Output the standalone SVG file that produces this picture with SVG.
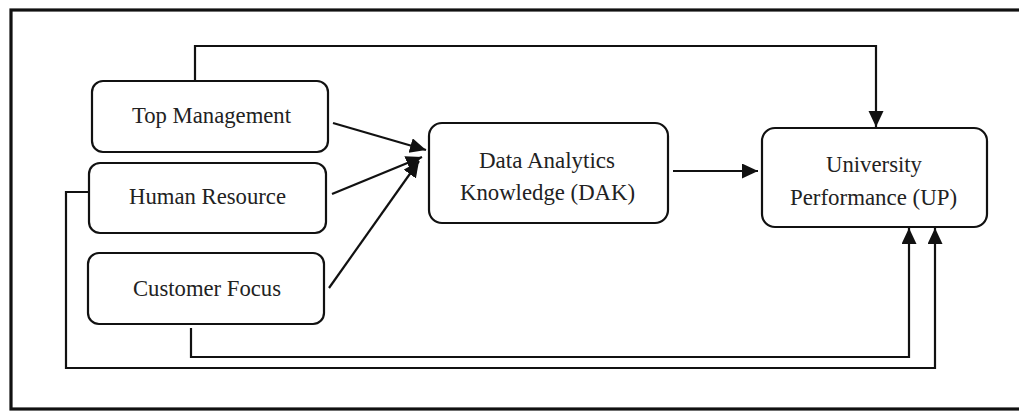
<svg xmlns="http://www.w3.org/2000/svg" width="1019" height="412" viewBox="0 0 1019 412">
<style>
.box{fill:#fff;stroke:#111;stroke-width:2.2}
.lbl{font-family:"Liberation Serif","Times New Roman",serif;font-size:24px;fill:#222;text-anchor:middle}
.con{fill:none;stroke:#111;stroke-width:2.2}
</style>
<defs>
<marker id="ah" markerUnits="userSpaceOnUse" markerWidth="18" markerHeight="16" refX="16" refY="7.5" orient="auto">
<path d="M0,0 L16,7.5 L0,15 z" fill="#111"/>
</marker>
</defs>
<rect x="11" y="10" width="1030" height="399" fill="#fff" stroke="#111" stroke-width="3.2"/>
<g id="connectors">
<path class="con" d="M195,81 V46 H876 V127" marker-end="url(#ah)"/>
<path class="con" d="M333,123 L426,150" marker-end="url(#ah)"/>
<path class="con" d="M332,194 L422,157" marker-end="url(#ah)"/>
<path class="con" d="M329,288 L419,161" marker-end="url(#ah)"/>
<path class="con" d="M673,171 H758" marker-end="url(#ah)"/>
<path class="con" d="M191,328 V357 H909 V228" marker-end="url(#ah)"/>
<path class="con" d="M89,192 H66 V368 H935 V228" marker-end="url(#ah)"/>
</g>
<g id="top-management">
<rect class="box" x="92" y="81" width="236" height="71" rx="11"/>
<text class="lbl" x="211.5" y="123" textLength="159" lengthAdjust="spacingAndGlyphs">Top Management</text>
</g>
<g id="human-resource">
<rect class="box" x="89" y="163" width="237" height="70" rx="11"/>
<text class="lbl" x="207.5" y="204" textLength="157" lengthAdjust="spacingAndGlyphs">Human Resource</text>
</g>
<g id="customer-focus">
<rect class="box" x="88" y="253" width="236" height="71" rx="11"/>
<text class="lbl" x="207" y="296" textLength="148" lengthAdjust="spacingAndGlyphs">Customer Focus</text>
</g>
<g id="dak">
<rect class="box" x="429" y="123" width="239" height="100" rx="13"/>
<text class="lbl" x="547" y="168" textLength="136" lengthAdjust="spacingAndGlyphs">Data Analytics</text>
<text class="lbl" x="547.5" y="200" textLength="175" lengthAdjust="spacingAndGlyphs">Knowledge (DAK)</text>
</g>
<g id="up">
<rect class="box" x="762" y="128" width="225" height="99" rx="13"/>
<text class="lbl" x="874" y="172" textLength="96" lengthAdjust="spacingAndGlyphs">University</text>
<text class="lbl" x="873.5" y="205" textLength="167" lengthAdjust="spacingAndGlyphs">Performance (UP)</text>
</g>
</svg>
